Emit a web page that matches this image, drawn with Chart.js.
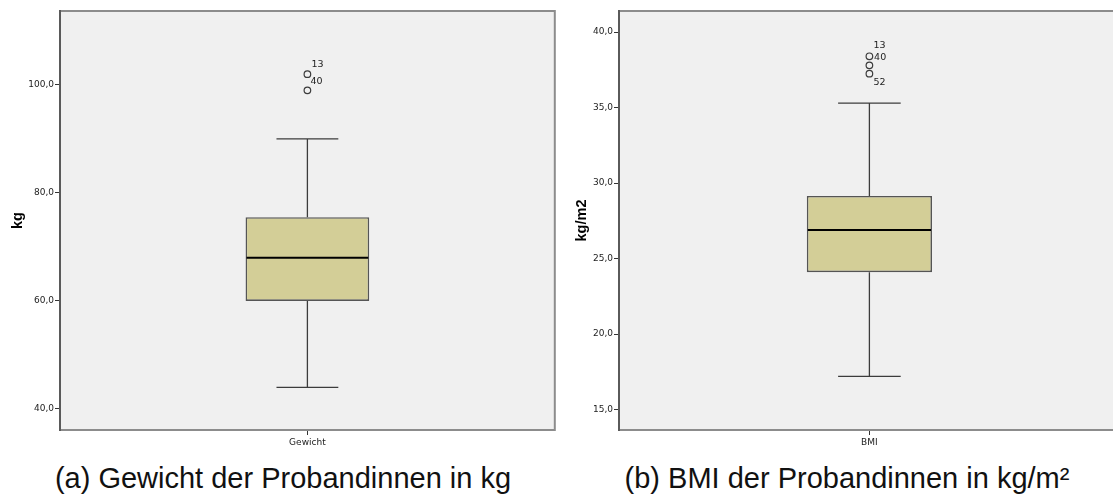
<!DOCTYPE html>
<html>
<head>
<meta charset="utf-8">
<script src="https://cdn.jsdelivr.net/npm/chart.js@4.4.1/dist/chart.umd.min.js"></script>
<style>
  html, body { margin: 0; padding: 0; background: #fff; }
  body { width: 1113px; height: 502px; overflow: hidden; position: relative; }
  .panel { position: absolute; top: 0; height: 452px; }
  .caption {
    position: absolute; top: 464px; line-height: 29px;
    font-family: "Liberation Sans", Arial, sans-serif; font-size: 29px; color: #111;
    white-space: nowrap; transform: translateX(-50%);
  }
</style>
</head>
<body>
<div class="panel" style="left:0;width:560px"><canvas id="chartGewicht"></canvas></div>
<div class="panel" style="left:560px;width:565px"><canvas id="chartBMI"></canvas></div>
<div class="caption" style="left:283px">(a) Gewicht der Probandinnen in kg</div>
<div class="caption" style="left:847px">(b) BMI der Probandinnen in kg/m²</div>
<script>
var gewichtLabels = ['Gewicht'];
var gewichtBox = [[60, 75.5]];        // Q1, Q3
var gewichtMedian = [68];
var gewichtWhisker = [[44, 90]];      // min, max
var gewichtOutliers = [102, 99];
var gewichtOutlierIds = ['13', '40'];
var gewichtTicks = [40, 60, 80, 100];

var bmiLabels = ['BMI'];
var bmiBox = [[24.1, 29.15]];
var bmiMedian = [26.9];
var bmiWhisker = [[17.2, 35.3]];
var bmiOutliers = [38.4, 37.8, 37.25];
var bmiOutlierIds = ['13', '40', '52'];
var bmiTicks = [15, 20, 25, 30, 35, 40];

Chart.defaults.font.family = 'DejaVu Sans';
Chart.defaults.animation = false;

function comma(v) {
    return Number(v).toFixed(1).replace('.', ',');
}

// SPSS look: grey plot area, frame, whiskers, median, case numbers at outliers
var boxPlotExtras = {
    id: 'boxPlotExtras',
    beforeDraw: function (chart) {
        var a = chart.chartArea, ctx = chart.ctx;
        ctx.save();
        ctx.fillStyle = '#f0f0f0';
        ctx.fillRect(a.left, a.top, a.right - a.left, a.bottom - a.top);
        ctx.restore();
    },
    afterDatasetsDraw: function (chart, args, opts) {
        var ctx = chart.ctx, y = chart.scales.y;
        var bars = chart.getDatasetMeta(0).data;
        ctx.save();
        bars.forEach(function (el, i) {
            var half = el.width / 2;
            ctx.strokeStyle = '#3c3c3c';
            ctx.lineWidth = 1.3;
            ctx.beginPath();
            ctx.moveTo(el.x, y.getPixelForValue(opts.box[i][1]));
            ctx.lineTo(el.x, y.getPixelForValue(opts.whisker[i][1]));
            ctx.moveTo(el.x, y.getPixelForValue(opts.box[i][0]));
            ctx.lineTo(el.x, y.getPixelForValue(opts.whisker[i][0]));
            opts.whisker[i].forEach(function (w) {
                var py = y.getPixelForValue(w);
                ctx.moveTo(el.x - half / 2, py);
                ctx.lineTo(el.x + half / 2, py);
            });
            ctx.stroke();
            ctx.strokeStyle = '#000';
            ctx.lineWidth = 2;
            ctx.beginPath();
            var my = y.getPixelForValue(opts.median[i]);
            ctx.moveTo(el.x - half + 1, my);
            ctx.lineTo(el.x + half - 1, my);
            ctx.stroke();
        });
        var pts = chart.getDatasetMeta(1).data;
        ctx.fillStyle = '#222';
        ctx.font = '9.5px "DejaVu Sans"';
        ctx.textAlign = 'left';
        ctx.textBaseline = 'middle';
        pts.forEach(function (p, i) {
            var off = opts.offsets[i];
            ctx.fillText(opts.ids[i], p.x + off[0], p.y + off[1]);
        });
        ctx.restore();
    },
    afterDraw: function (chart) {
        var a = chart.chartArea, ctx = chart.ctx;
        ctx.save();
        ctx.strokeStyle = '#8c8c8c';
        ctx.lineWidth = 2;
        ctx.strokeRect(a.left, a.top, a.right - a.left, a.bottom - a.top);
        ctx.strokeStyle = '#4a4a4a';
        ctx.lineWidth = 1.5;
        ctx.beginPath();
        ctx.moveTo(a.left, a.top - 1);
        ctx.lineTo(a.left, a.bottom + 1);
        ctx.stroke();
        ctx.restore();
    }
};

function boxChart(id, labels, box, median, whisker, outliers, ids, ticks, yMin, yMax, yTitle, yWidth, titlePad, offsets) {
    return new Chart(document.getElementById(id), {
        type: 'bar',
        data: {
            labels: labels,
            datasets: [{
                data: box,
                backgroundColor: '#d3ce97',
                borderColor: '#555555',
                borderWidth: 1.6,
                borderSkipped: false,
                barPercentage: 0.25,
                categoryPercentage: 1
            }, {
                type: 'line',
                data: outliers.map(function (v) { return {x: labels[0], y: v}; }),
                showLine: false,
                pointStyle: 'circle',
                pointRadius: 3.3,
                pointBackgroundColor: 'rgba(0,0,0,0)',
                pointBorderColor: '#3c3c3c',
                pointBorderWidth: 1.2
            }]
        },
        options: {
            responsive: true,
            maintainAspectRatio: false,
            layout: { padding: { top: 11, right: 4, left: 0, bottom: 0 } },
            plugins: {
                legend: { display: false },
                tooltip: { enabled: false },
                boxPlotExtras: { box: box, median: median, whisker: whisker, ids: ids, offsets: offsets }
            },
            scales: {
                x: {
                    afterFit: function (s) { s.height = 22; },
                    ticks: { font: { size: 9 }, color: '#222', padding: 2 },
                    grid: { drawOnChartArea: false, offset: false, tickLength: 5, color: '#333' },
                    border: { display: false }
                },
                y: {
                    min: yMin,
                    max: yMax,
                    afterBuildTicks: function (s) {
                        s.ticks = ticks.map(function (v) { return {value: v}; });
                    },
                    afterFit: function (s) { s.width = yWidth; },
                    ticks: { callback: comma, font: { size: 9 }, color: '#222', padding: 1 },
                    grid: { drawOnChartArea: false, tickLength: 5, color: '#333' },
                    border: { display: false },
                    title: {
                        display: true,
                        text: yTitle,
                        color: '#000',
                        font: { family: 'Liberation Sans', size: 14.5, weight: 'bold' },
                        padding: { top: titlePad, bottom: 0 }
                    }
                }
            }
        },
        plugins: [boxPlotExtras]
    });
}

boxChart('chartGewicht', gewichtLabels, gewichtBox, gewichtMedian, gewichtWhisker,
    gewichtOutliers, gewichtOutlierIds, gewichtTicks, 36.1, 113.7, 'kg', 60, 9,
    [[4, -10], [3, -8.7]]);

boxChart('chartBMI', bmiLabels, bmiBox, bmiMedian, bmiWhisker,
    bmiOutliers, bmiOutlierIds, bmiTicks, 13.65, 41.4, 'kg/m2', 59, 13,
    [[4, -10.7], [4.7, -8.3], [4, 9]]);
</script>
</body>
</html>
